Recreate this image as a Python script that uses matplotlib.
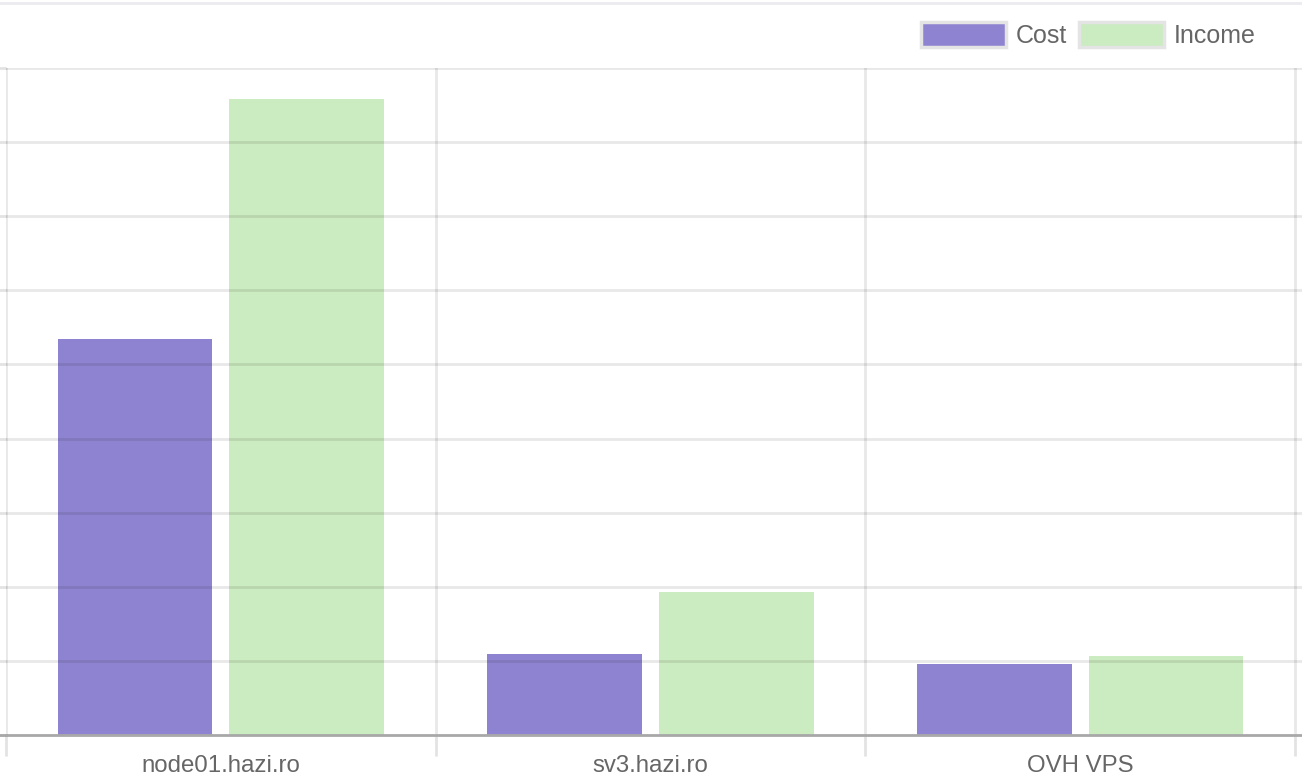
import numpy as np
import matplotlib
matplotlib.use("Agg")
import matplotlib.pyplot as plt
from matplotlib.patches import Patch
from matplotlib.lines import Line2D

plt.rcParams['font.family'] = ['Liberation Sans', 'DejaVu Sans']

servers = ['node01.hazi.ro', 'sv3.hazi.ro', 'OVH VPS']
cost = [5.35, 1.09, 0.96]
income = [8.58, 1.93, 1.07]

cost_color = '#8e83d0'
income_color = '#cbebc0'
grid_color = '#e3e3e3'
text_color = '#666666'

W, H = 1302, 782
fig = plt.figure(figsize=(W / 100, H / 100), dpi=100)
# axes box in pixels: left 6, right 1302, top 68, bottom 735
ax = fig.add_axes([6 / W, 1 - 735 / H, (W - 6) / W, (735 - 68) / H])

x = np.arange(len(servers))
bw = 0.36
ax.bar(x - 0.2, cost, bw, color=cost_color, zorder=1)
ax.bar(x + 0.2, income, bw, color=income_color, zorder=1)

cat_w = (1295 - 6) / 3
ax.set_xlim(-0.5, -0.5 + (W - 6) / cat_w)
ax.set_ylim(0, 9)

# horizontal grid + left ticks
ax.set_yticks(np.arange(0, 10, 1))
ax.set_yticklabels([])
ax.tick_params(axis='y', length=6, width=2, color=grid_color, direction='out')
for v in range(1, 10):
    ax.axhline(v, color='black', alpha=0.09, lw=2, zorder=3)

# vertical grid lines (category boundaries) extending below axis
ax.set_xticks(x)
ax.set_xticklabels(servers, fontsize=17.3, color=text_color)
ax.tick_params(axis='x', which='major', length=0, pad=14.5)
ax.set_xticks(np.arange(-0.5, 3, 1), minor=True)
ax.tick_params(axis='x', which='minor', length=15, width=2, color=grid_color, direction='out')
for b in np.arange(-0.5, 3, 1):
    ax.axvline(b, color='black', alpha=0.09, lw=2, zorder=3)

for s in ['top', 'right', 'left']:
    ax.spines[s].set_visible(False)
ax.spines['bottom'].set_color('#a8a8a8')
ax.spines['bottom'].set_linewidth(2)
ax.spines['bottom'].set_zorder(4)

# thin line across the very top
fig.add_artist(Line2D([0, 1], [1 - 3 / H, 1 - 3 / H], color='#ebebf0', lw=2))
# baseline continues to the left edge
fig.add_artist(Line2D([0, 6 / W], [1 - 735 / H, 1 - 735 / H], color='#a8a8a8', lw=2))

handles = [Patch(facecolor=cost_color, edgecolor='#e4e4e4', lw=2.5, label='Cost'),
           Patch(facecolor=income_color, edgecolor='#e4e4e4', lw=2.5, label='Income')]
leg = fig.legend(handles=handles, loc='center right', bbox_to_anchor=(1256 / W, 1 - 35 / H),
                 ncol=2, frameon=False, fontsize=18, handlelength=3.4, handleheight=1.15,
                 handletextpad=0.42, columnspacing=0.45, borderpad=0, borderaxespad=0)
for t in leg.get_texts():
    t.set_color(text_color)

fig.savefig('out.png', dpi=100)
